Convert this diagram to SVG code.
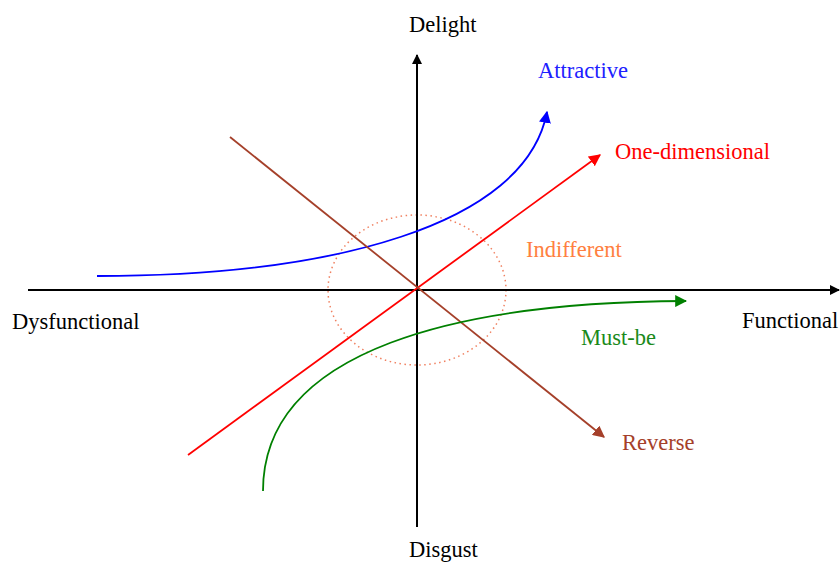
<svg xmlns="http://www.w3.org/2000/svg" width="840" height="563" viewBox="0 0 840 563">
<defs>
<marker id="ak" viewBox="0 0 10 10" refX="9" refY="5" markerWidth="10" markerHeight="10" markerUnits="userSpaceOnUse" orient="auto"><path d="M0,0 L10,5 L0,10 Z" fill="#000"/></marker>
<marker id="ab" viewBox="0 0 10 10" refX="9" refY="5" markerWidth="12" markerHeight="12" markerUnits="userSpaceOnUse" orient="auto"><path d="M0,0 L10,5 L0,10 Z" fill="#0000ff"/></marker>
<marker id="ar" viewBox="0 0 10 10" refX="9" refY="5" markerWidth="12" markerHeight="12" markerUnits="userSpaceOnUse" orient="auto"><path d="M0,0 L10,5 L0,10 Z" fill="#ff0000"/></marker>
<marker id="ag" viewBox="0 0 10 10" refX="9" refY="5" markerWidth="12" markerHeight="12" markerUnits="userSpaceOnUse" orient="auto"><path d="M0,0 L10,5 L0,10 Z" fill="#008000"/></marker>
<marker id="abr" viewBox="0 0 10 10" refX="9" refY="5" markerWidth="12" markerHeight="12" markerUnits="userSpaceOnUse" orient="auto"><path d="M0,0 L10,5 L0,10 Z" fill="#a5402a"/></marker>
</defs>
<style>
text{font-family:"Liberation Serif","Times New Roman",serif;font-size:22.5px}
.ax{stroke:#000;stroke-width:2;fill:none}
.c{fill:none;stroke-width:1.8}
</style>
<rect width="840" height="563" fill="#fff"/>
<g id="connectors">
<ellipse id="indifferent-zone" cx="417" cy="290" rx="89" ry="75" fill="none" stroke="#f08060" stroke-width="1.5" stroke-dasharray="1.5 3.5"/>
<line class="ax" x1="417" y1="527" x2="417" y2="55" marker-end="url(#ak)"/>
<line class="ax" x1="28" y1="290" x2="839" y2="290" marker-end="url(#ak)"/>
<path class="c" stroke="#0000ff" d="M97,276 C330,276 525,226 547,112" marker-end="url(#ab)"/>
<line class="c" stroke="#ff0000" x1="188" y1="455" x2="600" y2="155" marker-end="url(#ar)"/>
<line class="c" stroke="#a5402a" x1="230" y1="137" x2="604" y2="437" marker-end="url(#abr)"/>
<path class="c" stroke="#008000" d="M263,491 C263,348 462,302 686,301" marker-end="url(#ag)"/>
</g>
<g id="delight"><text x="409" y="32">Delight</text></g>
<g id="disgust"><text x="409" y="557">Disgust</text></g>
<g id="functional"><text x="742" y="328">Functional</text></g>
<g id="dysfunctional"><text x="12" y="329">Dysfunctional</text></g>
<g id="attractive"><text x="538" y="78" fill="#2020ff">Attractive</text></g>
<g id="one-dimensional"><text x="615" y="159" fill="#ff0000">One-dimensional</text></g>
<g id="indifferent"><text x="526" y="257" fill="#ff8040">Indifferent</text></g>
<g id="must-be"><text x="581" y="345" fill="#1a8a1a">Must-be</text></g>
<g id="reverse"><text x="622" y="450" fill="#a5402a">Reverse</text></g>
</svg>
